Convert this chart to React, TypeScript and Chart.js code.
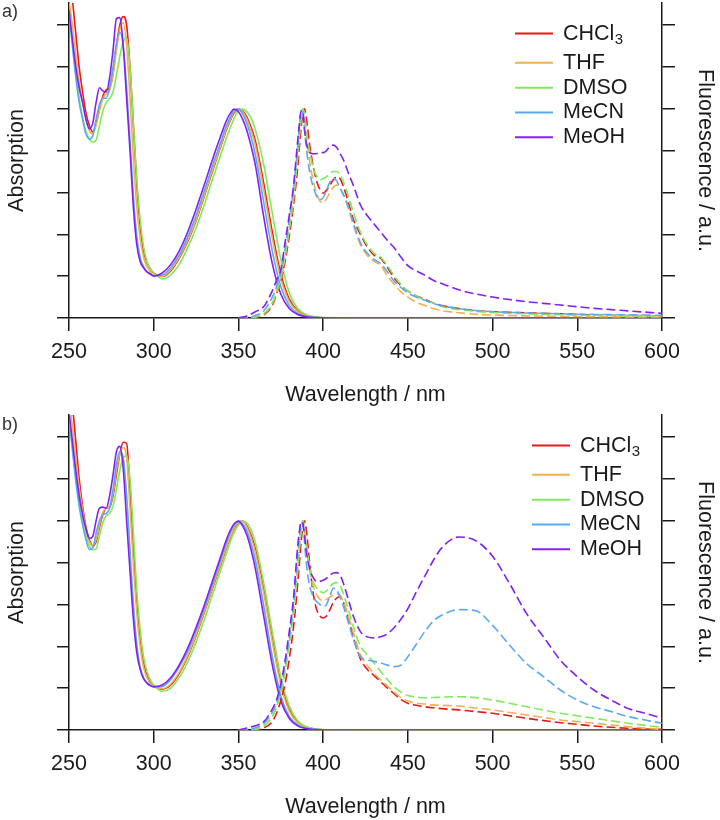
import React, { useEffect, useRef } from 'react';
import { Chart, registerables } from 'chart.js';

Chart.register(...registerables);

// ---------- data ----------
const SOLVENT_MAIN = ['CHCl', 'THF', 'DMSO', 'MeCN', 'MeOH'];
const SOLVENT_SUB = ['3', '', '', '', ''];
const SOLVENT_LABELS = ['CHCl₃', 'THF', 'DMSO', 'MeCN', 'MeOH'];
const COLORS = ['#E8181C', '#F4B04C', '#7EEB5C', '#5BA9F2', '#8420F0'];

const X_MIN = 250;
const X_MAX = 600;
const X_STEP = 50;
const Y_MAX = 1.505;
const Y_STEP = 0.2;

const ABS_X = [250, 252, 254, 256, 258, 260, 262, 264, 266, 268, 270, 272, 274, 276, 278, 280, 282, 284, 286, 288, 290, 292, 294, 296, 298, 300,
  305, 310, 315, 320, 325, 330, 335, 340, 342.5, 345, 347.5, 350, 352.5, 355, 357.5,
  360, 365, 370, 375, 380, 385, 390, 395, 400, 420, 450, 500, 600];

const FL_X = [350, 355, 360, 365, 370, 372.5, 375, 377.5, 380, 382.5, 385, 386, 387, 388, 389, 390, 392, 394, 396, 398,
  400, 402, 404, 406, 408, 410, 412, 415, 418, 422, 426, 430, 434, 438, 442, 446, 450, 455, 460, 465,
  470, 480, 490, 500, 510, 520, 530, 540, 550, 560, 570, 580, 590, 600];

// panel a) absorption
const A_ABS_CHCL3 = [1.62, 1.52, 1.36, 1.2, 1.08, 0.98, 0.92, 0.89, 0.93, 1.0, 1.06, 1.09, 1.1, 1.17, 1.3, 1.4, 1.44, 1.4, 1.2, 0.92, 0.64, 0.44, 0.32, 0.265, 0.235, 0.215,
  0.198, 0.225, 0.285, 0.365, 0.465, 0.585, 0.71, 0.83, 0.89, 0.94, 0.98, 0.998, 0.99, 0.96, 0.91,
  0.845, 0.64, 0.41, 0.21, 0.09, 0.034, 0.012, 0.004, 0.001, 0, 0, 0, 0];
const A_ABS_THF = [1.52, 1.4, 1.26, 1.13, 1.03, 0.95, 0.895, 0.88, 0.92, 0.99, 1.05, 1.07, 1.09, 1.16, 1.28, 1.38, 1.41, 1.3, 1.05, 0.76, 0.53, 0.38, 0.29, 0.245, 0.22, 0.205,
  0.2, 0.23, 0.29, 0.37, 0.47, 0.59, 0.715, 0.835, 0.895, 0.945, 0.985, 1.0, 0.985, 0.95, 0.895,
  0.825, 0.61, 0.38, 0.19, 0.08, 0.03, 0.011, 0.004, 0.001, 0, 0, 0, 0];
const A_ABS_DMSO = [1.47, 1.32, 1.17, 1.05, 0.96, 0.89, 0.855, 0.84, 0.85, 0.92, 0.99, 1.03, 1.05, 1.08, 1.16, 1.25, 1.32, 1.34, 1.2, 0.93, 0.66, 0.47, 0.34, 0.27, 0.235, 0.215,
  0.187, 0.205, 0.255, 0.335, 0.43, 0.545, 0.67, 0.79, 0.85, 0.905, 0.955, 0.99, 0.998, 0.985, 0.955,
  0.9, 0.73, 0.5, 0.28, 0.12, 0.045, 0.016, 0.006, 0.002, 0, 0, 0, 0];
const A_ABS_MECN = [1.47, 1.3, 1.15, 1.03, 0.95, 0.88, 0.855, 0.87, 0.95, 1.02, 1.05, 1.05, 1.1, 1.2, 1.31, 1.365, 1.3, 1.1, 0.85, 0.58, 0.39, 0.29, 0.245, 0.222, 0.21, 0.202,
  0.205, 0.24, 0.3, 0.385, 0.49, 0.61, 0.735, 0.85, 0.91, 0.955, 0.99, 0.998, 0.975, 0.93, 0.865,
  0.78, 0.55, 0.32, 0.15, 0.06, 0.022, 0.008, 0.003, 0.001, 0, 0, 0, 0];
const A_ABS_MEOH = [1.47, 1.33, 1.2, 1.1, 1.03, 0.95, 0.905, 0.93, 1.03, 1.1, 1.085, 1.08, 1.15, 1.28, 1.43, 1.435, 1.3, 1.05, 0.8, 0.53, 0.35, 0.27, 0.24, 0.22, 0.21, 0.2,
  0.215, 0.255, 0.32, 0.41, 0.52, 0.64, 0.765, 0.88, 0.935, 0.975, 0.998, 0.985, 0.95, 0.895, 0.82,
  0.73, 0.48, 0.26, 0.115, 0.045, 0.017, 0.006, 0.002, 0.001, 0, 0, 0, 0];

// panel a) fluorescence
const A_FL_CHCL3 = [0, 0, 0.003, 0.015, 0.06, 0.115, 0.18, 0.27, 0.39, 0.54, 0.72, 0.82, 0.91, 0.975, 1.0, 0.96, 0.83, 0.73, 0.66, 0.615,
  0.596, 0.61, 0.635, 0.66, 0.675, 0.665, 0.627, 0.55, 0.468, 0.4, 0.34, 0.3, 0.285, 0.24, 0.19, 0.155, 0.13, 0.105, 0.09, 0.072,
  0.06, 0.045, 0.035, 0.03, 0.027, 0.025, 0.022, 0.02, 0.017, 0.015, 0.013, 0.012, 0.011, 0.01];
const A_FL_THF = [0, 0, 0.005, 0.02, 0.07, 0.12, 0.19, 0.29, 0.42, 0.57, 0.77, 0.87, 0.95, 1.0, 0.96, 0.88, 0.75, 0.66, 0.6, 0.56,
  0.55, 0.57, 0.6, 0.625, 0.635, 0.62, 0.585, 0.52, 0.44, 0.35, 0.3, 0.27, 0.25, 0.2, 0.16, 0.125, 0.1, 0.075, 0.06, 0.045,
  0.035, 0.025, 0.018, 0.014, 0.012, 0.01, 0.009, 0.008, 0.007, 0.006, 0.006, 0.005, 0.005, 0.005];
const A_FL_DMSO = [0, 0, 0.005, 0.02, 0.07, 0.13, 0.2, 0.3, 0.43, 0.58, 0.78, 0.88, 0.96, 1.0, 0.97, 0.9, 0.8, 0.72, 0.68, 0.66,
  0.665, 0.675, 0.69, 0.7, 0.7, 0.685, 0.65, 0.58, 0.5, 0.41, 0.35, 0.31, 0.29, 0.25, 0.2, 0.16, 0.13, 0.105, 0.085, 0.07,
  0.055, 0.04, 0.032, 0.026, 0.023, 0.02, 0.018, 0.016, 0.014, 0.013, 0.012, 0.011, 0.01, 0.01];
const A_FL_MECN = [0, 0.003, 0.012, 0.035, 0.1, 0.15, 0.22, 0.33, 0.47, 0.62, 0.82, 0.92, 0.99, 0.98, 0.9, 0.82, 0.7, 0.63, 0.585, 0.565,
  0.575, 0.61, 0.65, 0.667, 0.655, 0.62, 0.59, 0.53, 0.45, 0.36, 0.31, 0.28, 0.26, 0.22, 0.175, 0.145, 0.12, 0.1, 0.085, 0.07,
  0.058, 0.045, 0.036, 0.03, 0.027, 0.024, 0.022, 0.02, 0.018, 0.017, 0.016, 0.015, 0.014, 0.013];
const A_FL_MEOH = [0, 0.01, 0.03, 0.055, 0.13, 0.18, 0.23, 0.36, 0.49, 0.63, 0.85, 0.93, 0.99, 0.99, 0.9, 0.84, 0.79, 0.785, 0.785, 0.79,
  0.79, 0.8, 0.82, 0.826, 0.815, 0.785, 0.755, 0.69, 0.63, 0.54, 0.49, 0.45, 0.41, 0.37, 0.335, 0.29, 0.25, 0.225, 0.205, 0.18,
  0.165, 0.135, 0.115, 0.1, 0.088, 0.078, 0.07, 0.062, 0.054, 0.046, 0.04, 0.034, 0.028, 0.022];

// panel b) absorption
const B_ABS_CHCL3 = [1.65, 1.55, 1.38, 1.2, 1.07, 0.97, 0.91, 0.88, 0.9, 0.97, 1.03, 1.06, 1.065, 1.12, 1.22, 1.32, 1.375, 1.37, 1.15, 0.87, 0.61, 0.43, 0.32, 0.26, 0.225, 0.21,
  0.195, 0.215, 0.27, 0.35, 0.45, 0.565, 0.685, 0.8, 0.86, 0.915, 0.96, 0.99, 0.998, 0.975, 0.93,
  0.865, 0.67, 0.44, 0.23, 0.1, 0.038, 0.014, 0.005, 0.001, 0, 0, 0, 0];
const B_ABS_THF = [1.58, 1.45, 1.3, 1.16, 1.05, 0.96, 0.9, 0.88, 0.91, 0.98, 1.04, 1.06, 1.07, 1.13, 1.24, 1.32, 1.35, 1.3, 1.06, 0.79, 0.56, 0.4, 0.3, 0.25, 0.222, 0.208,
  0.197, 0.22, 0.275, 0.355, 0.455, 0.57, 0.69, 0.805, 0.865, 0.92, 0.965, 0.993, 0.998, 0.97, 0.92,
  0.85, 0.65, 0.42, 0.215, 0.09, 0.034, 0.012, 0.004, 0.001, 0, 0, 0, 0];
const B_ABS_DMSO = [1.5, 1.35, 1.21, 1.09, 1.0, 0.93, 0.88, 0.862, 0.865, 0.93, 0.99, 1.025, 1.035, 1.07, 1.15, 1.24, 1.3, 1.31, 1.2, 0.94, 0.67, 0.48, 0.35, 0.28, 0.24, 0.215,
  0.185, 0.2, 0.25, 0.325, 0.42, 0.53, 0.655, 0.775, 0.835, 0.895, 0.945, 0.98, 0.997, 0.99, 0.955,
  0.895, 0.7, 0.47, 0.255, 0.115, 0.044, 0.016, 0.006, 0.002, 0, 0, 0, 0];
const B_ABS_MECN = [1.5, 1.34, 1.19, 1.07, 0.98, 0.91, 0.862, 0.87, 0.94, 1.0, 1.03, 1.035, 1.06, 1.15, 1.27, 1.33, 1.3, 1.12, 0.86, 0.6, 0.41, 0.3, 0.25, 0.225, 0.212, 0.205,
  0.207, 0.24, 0.3, 0.375, 0.475, 0.585, 0.705, 0.825, 0.885, 0.94, 0.978, 0.997, 0.985, 0.95, 0.89,
  0.81, 0.59, 0.35, 0.165, 0.065, 0.024, 0.008, 0.003, 0, 0, 0, 0, 0];
const B_ABS_MEOH = [1.52, 1.38, 1.24, 1.12, 1.03, 0.96, 0.915, 0.925, 1.0, 1.06, 1.065, 1.06, 1.12, 1.22, 1.33, 1.355, 1.25, 1.0, 0.76, 0.53, 0.37, 0.29, 0.245, 0.225, 0.212, 0.207,
  0.215, 0.25, 0.31, 0.39, 0.49, 0.6, 0.72, 0.84, 0.9, 0.95, 0.985, 0.998, 0.975, 0.93, 0.86,
  0.77, 0.54, 0.31, 0.14, 0.055, 0.02, 0.007, 0.002, 0, 0, 0, 0, 0];

// panel b) fluorescence
const B_FL_CHCL3 = [0, 0, 0.002, 0.01, 0.04, 0.08, 0.14, 0.22, 0.34, 0.49, 0.7, 0.8, 0.9, 0.97, 1.0, 0.96, 0.8, 0.66, 0.58, 0.545,
  0.535, 0.545, 0.575, 0.61, 0.63, 0.637, 0.61, 0.53, 0.44, 0.34, 0.29, 0.26, 0.23, 0.2, 0.172, 0.145, 0.128, 0.118, 0.111, 0.106,
  0.102, 0.096, 0.088, 0.08, 0.068, 0.056, 0.045, 0.035, 0.027, 0.019, 0.013, 0.008, 0.005, 0.003];
const B_FL_THF = [0, 0, 0.004, 0.018, 0.065, 0.11, 0.18, 0.28, 0.41, 0.56, 0.77, 0.87, 0.95, 1.0, 0.96, 0.88, 0.76, 0.69, 0.65, 0.625,
  0.62, 0.625, 0.635, 0.645, 0.65, 0.645, 0.61, 0.54, 0.46, 0.36, 0.31, 0.27, 0.24, 0.21, 0.18, 0.155, 0.138, 0.128, 0.124, 0.12,
  0.118, 0.115, 0.105, 0.096, 0.084, 0.072, 0.06, 0.048, 0.04, 0.032, 0.024, 0.016, 0.009, 0.003];
const B_FL_DMSO = [0, 0, 0.004, 0.018, 0.065, 0.11, 0.18, 0.28, 0.41, 0.56, 0.77, 0.87, 0.95, 1.0, 0.97, 0.9, 0.78, 0.71, 0.68, 0.665,
  0.656, 0.665, 0.685, 0.7, 0.704, 0.69, 0.65, 0.57, 0.49, 0.4, 0.36, 0.32, 0.28, 0.24, 0.205, 0.18, 0.165, 0.158, 0.154, 0.155,
  0.157, 0.159, 0.155, 0.143, 0.128, 0.111, 0.095, 0.08, 0.068, 0.056, 0.044, 0.032, 0.022, 0.013];
const B_FL_MECN = [0, 0.003, 0.01, 0.03, 0.085, 0.13, 0.2, 0.31, 0.44, 0.6, 0.84, 0.93, 0.99, 0.985, 0.9, 0.8, 0.69, 0.64, 0.615, 0.6,
  0.59, 0.6, 0.64, 0.677, 0.67, 0.635, 0.59, 0.51, 0.43, 0.35, 0.335, 0.328, 0.32, 0.31, 0.303, 0.31, 0.35, 0.41, 0.47, 0.52,
  0.548, 0.575, 0.57, 0.5, 0.406, 0.318, 0.255, 0.191, 0.143, 0.111, 0.088, 0.064, 0.048, 0.032];
const B_FL_MEOH = [0, 0.01, 0.02, 0.04, 0.1, 0.145, 0.22, 0.33, 0.47, 0.63, 0.88, 0.95, 0.995, 0.99, 0.93, 0.86, 0.77, 0.73, 0.71, 0.71,
  0.715, 0.725, 0.74, 0.75, 0.752, 0.74, 0.7, 0.62, 0.54, 0.47, 0.445, 0.44, 0.445, 0.46, 0.49, 0.53, 0.58, 0.66, 0.735, 0.81,
  0.87, 0.922, 0.905, 0.83, 0.7, 0.557, 0.446, 0.334, 0.255, 0.19, 0.143, 0.103, 0.08, 0.056];

const A_ABS = [A_ABS_CHCL3, A_ABS_THF, A_ABS_DMSO, A_ABS_MECN, A_ABS_MEOH];
const A_FL = [A_FL_CHCL3, A_FL_THF, A_FL_DMSO, A_FL_MECN, A_FL_MEOH];
const B_ABS = [B_ABS_CHCL3, B_ABS_THF, B_ABS_DMSO, B_ABS_MECN, B_ABS_MEOH];
const B_FL = [B_FL_CHCL3, B_FL_THF, B_FL_DMSO, B_FL_MECN, B_FL_MEOH];

// ---------- styling ----------
const FONT = "'Liberation Sans', Arial, sans-serif";
const TEXT = '#1a1a1a';
const AXIS = '#1a1a1a';
const FS = 21.5;
const LEGEND_OFFSETS = [30.6, 59.8, 84.7, 109.4, 134.2];

function makeOverlay(legendX: number, tag: string, tagY: number) {
  return {
    id: 'overlay',
    afterDraw(chart: any) {
      const ctx = chart.ctx as CanvasRenderingContext2D;
      const top = chart.chartArea.top;
      ctx.save();
      LEGEND_OFFSETS.forEach((dy, i) => {
        const y = top + dy;
        ctx.setLineDash([]);
        ctx.strokeStyle = COLORS[i];
        ctx.lineWidth = 2;
        ctx.beginPath();
        ctx.moveTo(legendX, y);
        ctx.lineTo(legendX + 38, y);
        ctx.stroke();
        ctx.fillStyle = TEXT;
        ctx.textAlign = 'left';
        ctx.textBaseline = 'middle';
        ctx.font = `${FS}px ${FONT}`;
        const tx = legendX + 48;
        ctx.fillText(SOLVENT_MAIN[i], tx, y);
        if (SOLVENT_SUB[i]) {
          const w = ctx.measureText(SOLVENT_MAIN[i]).width;
          ctx.font = `15px ${FONT}`;
          ctx.fillText(SOLVENT_SUB[i], tx + w + 0.5, y + 6);
        }
      });
      ctx.fillStyle = '#333';
      ctx.font = `18px ${FONT}`;
      ctx.textAlign = 'left';
      ctx.textBaseline = 'middle';
      ctx.fillText(tag, 2, tagY);
      ctx.restore();
    },
  };
}

type PanelProps = {
  abs: number[][];
  fl: number[][];
  padTop: number;
  padBottom: number;
  legendX: number;
  tag: string;
  tagY: number;
};

function Panel({ abs, fl, padTop, padBottom, legendX, tag, tagY }: PanelProps) {
  const ref = useRef<HTMLCanvasElement>(null);
  useEffect(() => {
    const datasets: any[] = [];
    abs.forEach((arr, i) => {
      datasets.push({
        label: SOLVENT_LABELS[i] + ' abs',
        data: ABS_X.map((x, k) => ({ x, y: arr[k] })),
        borderColor: COLORS[i],
        borderWidth: 1.6,
        pointRadius: 0,
        fill: false,
        cubicInterpolationMode: 'monotone',
        yAxisID: 'y',
        order: 10 - i,
      });
    });
    fl.forEach((arr, i) => {
      datasets.push({
        label: SOLVENT_LABELS[i] + ' fl',
        data: FL_X.map((x, k) => ({ x, y: arr[k] })),
        borderColor: COLORS[i],
        borderWidth: 1.6,
        borderDash: [9, 4],
        pointRadius: 0,
        fill: false,
        cubicInterpolationMode: 'monotone',
        yAxisID: 'y2',
        order: 5 - i,
      });
    });
    const font = { family: FONT, size: FS };
    const gridBase = { drawOnChartArea: false, drawTicks: true, color: AXIS, lineWidth: 1.5 };
    const border = { display: true, color: AXIS, width: 1.5 };
    const chart = new Chart(ref.current as HTMLCanvasElement, {
      type: 'line',
      data: { datasets },
      options: {
        animation: false,
        responsive: false,
        maintainAspectRatio: false,
        layout: { padding: { top: padTop, bottom: padBottom, left: 0, right: 0 } },
        plugins: { legend: { display: false }, tooltip: { enabled: false } },
        scales: {
          x: {
            type: 'linear',
            min: X_MIN,
            max: X_MAX,
            afterFit: (s: any) => { s.height = 90; },
            ticks: { stepSize: X_STEP, padding: 8, color: TEXT, font, maxRotation: 0, autoSkip: false },
            grid: { ...gridBase, tickLength: 13 },
            border,
            title: { display: true, text: 'Wavelength / nm', color: TEXT, font, padding: { top: 0, bottom: 0 } },
          },
          y: {
            type: 'linear',
            position: 'left',
            min: 0,
            max: Y_MAX,
            afterFit: (s: any) => { s.width = 69; },
            ticks: { display: false, stepSize: Y_STEP, includeBounds: false },
            grid: { ...gridBase, tickLength: 12 },
            border,
            title: { display: true, text: 'Absorption', color: TEXT, font, padding: { top: 4.4, bottom: 0 } },
          },
          y2: {
            type: 'linear',
            position: 'right',
            min: 0,
            max: Y_MAX,
            afterFit: (s: any) => { s.width = 58; },
            ticks: { display: false, stepSize: Y_STEP, includeBounds: false },
            grid: { ...gridBase, tickLength: 13 },
            border,
            title: { display: true, text: 'Fluorescence / a.u.', color: TEXT, font, padding: { top: 2.4, bottom: 0 } },
          },
        },
      } as any,
      plugins: [makeOverlay(legendX, tag, tagY)],
    });
    return () => chart.destroy();
  }, []);
  return <canvas ref={ref} width={720} height={410} style={{ display: 'block', width: 720, height: 410 }} />;
}

export default function App() {
  return (
    <div style={{ position: 'absolute', left: 0, top: 0, width: 720, height: 820, background: '#fff' }}>
      <Panel abs={A_ABS} fl={A_FL} padTop={3} padBottom={2} legendX={515} tag="a)" tagY={12} />
      <Panel abs={B_ABS} fl={B_FL} padTop={5} padBottom={0} legendX={532} tag="b)" tagY={15} />
    </div>
  );
}
